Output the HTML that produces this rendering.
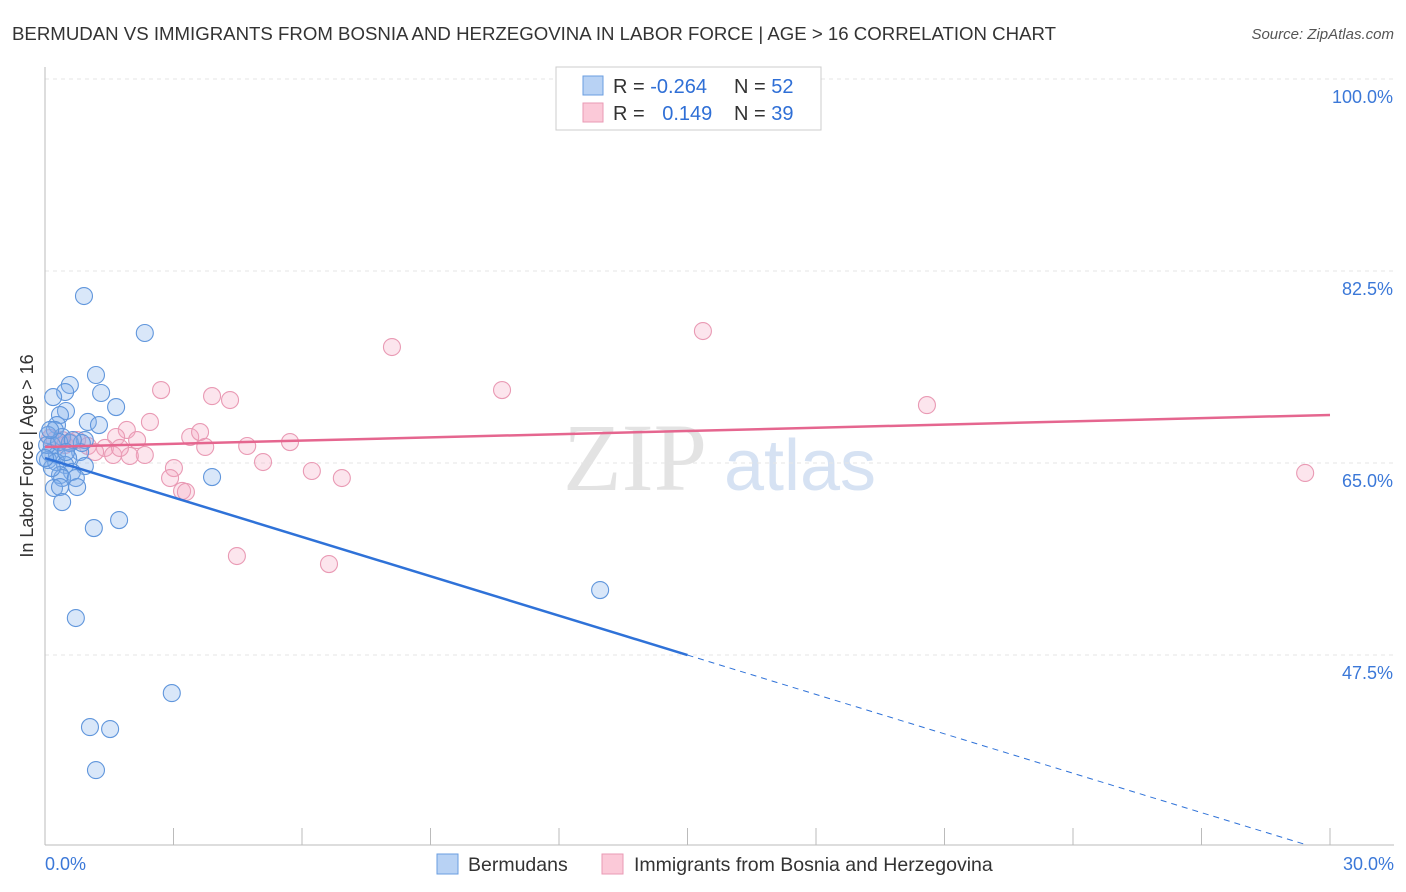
<!DOCTYPE html>
<html><head><meta charset="utf-8"><style>
body{margin:0;background:#fff;font-family:"Liberation Sans",sans-serif}
svg{display:block}
</style></head><body>
<svg id="c" width="1406" height="892" viewBox="0 0 1406 892">
<text x="12" y="40" font-size="18" fill="#333" textLength="1044" lengthAdjust="spacingAndGlyphs">BERMUDAN VS IMMIGRANTS FROM BOSNIA AND HERZEGOVINA IN LABOR FORCE | AGE &gt; 16 CORRELATION CHART</text>
<text x="1394" y="39" font-size="15" fill="#555" font-style="italic" text-anchor="end">Source: ZipAtlas.com</text>
<g>
<text x="635" y="490" font-size="96" fill="#d8d8d8" font-family="Liberation Serif,serif" text-anchor="middle" opacity="0.7">ZIP</text>
<text x="800" y="490" font-size="72" fill="#c5d6ee" text-anchor="middle" opacity="0.7">atlas</text>
</g>
<g id="grid"></g><g id="axes"></g><g id="pts"></g><g id="trend"></g>
<g>
<rect x="556" y="67" width="265" height="63" fill="#fff" stroke="#ccc"/>
<rect x="583" y="76" width="20" height="19" fill="#b8d2f4" stroke="#6a9ee0"/>
<rect x="583" y="103" width="20" height="19" fill="#fbc9d8" stroke="#e99ab4"/>
<text x="613" y="93" font-size="20" fill="#333">R = <tspan fill="#2f6fd6">-0.264</tspan></text>
<text x="734" y="93" font-size="20" fill="#333">N = <tspan fill="#2f6fd6">52</tspan></text>
<text x="613" y="120" font-size="20" fill="#333">R = <tspan fill="#2f6fd6" dx="12">0.149</tspan></text>
<text x="734" y="120" font-size="20" fill="#333">N = <tspan fill="#2f6fd6">39</tspan></text>
</g>
<text transform="translate(33,456) rotate(-90)" font-size="18" fill="#333" text-anchor="middle">In Labor Force | Age &gt; 16</text>
<text x="45" y="870" font-size="18" fill="#3b78d8">0.0%</text>
<text x="1394" y="870" font-size="18" fill="#3b78d8" text-anchor="end">30.0%</text>
<g>
<rect x="437" y="854" width="21" height="20" fill="#b8d2f4" stroke="#6a9ee0"/>
<text x="468" y="871" font-size="19.5" fill="#333">Bermudans</text>
<rect x="602" y="854" width="21" height="20" fill="#fbc9d8" stroke="#e99ab4"/>
<text x="634" y="871" font-size="19.5" fill="#333">Immigrants from Bosnia and Herzegovina</text>
</g>
</svg>
<script>
const yTicks=[100,82.5,65,47.5];
const yTickLabels=["100.0%","82.5%","65.0%","47.5%"];
const blueX=[0.91,2.33,1.19,0.58,1.31,0.47,0.19,1.66,0.49,0.35,1.00,1.26,0.28,0.23,0.07,0.40,0.93,0.16,0.82,0.12,0.28,0.54,0.07,0.26,0.47,0.93,0.63,0.35,0.40,0.72,3.90,0.21,0.35,0.75,0.40,1.14,1.73,12.96,0.72,2.96,1.05,1.52,1.19,0.05,0.16,0.58,0.33,0.86,0.65,0.0,0.49,0.12];
const blueY=[80.22,76.85,73.02,72.11,71.38,71.47,71.01,70.10,69.74,69.37,68.74,68.46,68.46,68.01,67.55,67.37,67.09,66.64,66.00,65.91,65.73,65.45,65.27,65.09,64.82,64.72,64.18,63.90,63.63,63.63,63.72,62.72,62.81,62.81,61.44,59.07,59.80,53.42,50.87,44.03,40.93,40.75,37.01,66.64,64.54,66.82,66.91,66.82,67.09,65.45,66.00,68.01];
const pinkX=[15.36,8.10,2.71,10.67,3.90,4.32,20.59,2.45,1.91,3.39,3.62,1.66,2.15,5.72,4.72,1.40,3.74,1.00,0.75,0.40,2.33,1.98,1.59,5.09,6.23,3.01,6.93,2.92,3.20,3.29,4.48,6.63,29.42,0.23,0.58,0.12,1.17,1.75,0.47];
const pinkY=[77.03,75.57,71.65,71.65,71.10,70.74,70.28,68.74,68.01,67.37,67.82,67.37,67.09,66.91,66.55,66.37,66.46,66.55,67.09,67.09,65.73,65.64,65.73,65.09,64.27,64.54,63.63,63.63,62.45,62.36,56.52,55.79,64.09,67.09,66.91,67.28,66.00,66.37,66.64];
const blueTrend=[65.45,-1.197];
const pinkTrend=[66.46,0.0973];
const NS="http://www.w3.org/2000/svg";
const X0=45,X1=1330,Y100=79,PXPER=192/17.5;
function sx(v){return X0+v/30*(X1-X0);}
function sy(v){return Y100+(100-v)*PXPER;}
function mk(tag,attrs,parent){const e=document.createElementNS(NS,tag);for(const k in attrs)e.setAttribute(k,attrs[k]);parent.appendChild(e);return e;}
const grid=document.getElementById('grid');
yTicks.forEach((t,i)=>{
 const l=mk('line',{x1:45,x2:1394,y1:sy(t),y2:sy(t),stroke:'#e6e6e6','stroke-dasharray':'4,4'},grid);
 
 
 const tx=mk('text',{x:1393,y:sy(t)+24,'font-size':18,fill:'#3b78d8','text-anchor':'end'},grid);
 tx.textContent=yTickLabels[i];
 
 
});
const axes=document.getElementById('axes');
const ya=mk('line',{x1:45,x2:45,y1:67,y2:845,stroke:'#bbb'},axes);


const xa=mk('line',{x1:45,x2:1394,y1:845,y2:845,stroke:'#bbb'},axes);


for(let i=0;i<=10;i++){
 const t=mk('line',{x1:sx(i*3),x2:sx(i*3),y1:828,y2:845,stroke:'#bbb'},axes);
 
 
}
const pts=document.getElementById('pts');
function drawPts(xs,ys,fill,stroke,name){
 xs.forEach((x,i)=>{
  const c=mk('circle',{cx:sx(x),cy:sy(ys[i]),r:8.5,fill:fill,stroke:stroke,'stroke-width':1.1},pts);
  
  
 });
}
drawPts(pinkX,pinkY,'rgba(244,170,196,0.3)','#e99ab4','bosnia-point');
drawPts(blueX,blueY,'rgba(130,175,235,0.3)','#6096dc','bermudan-point');
const tr=document.getElementById('trend');
const bEnd=15, bLast=29.4;
const b1=mk('line',{x1:sx(0),y1:sy(blueTrend[0]),x2:sx(bEnd),y2:sy(blueTrend[0]+blueTrend[1]*bEnd),stroke:'#2f72d8','stroke-width':2.5},tr);


const b2=mk('line',{x1:sx(bEnd),y1:sy(blueTrend[0]+blueTrend[1]*bEnd),x2:sx(bLast),y2:sy(blueTrend[0]+blueTrend[1]*bLast),stroke:'#2f72d8','stroke-width':1,'stroke-dasharray':'6,5'},tr);


const p1=mk('line',{x1:sx(0),y1:sy(pinkTrend[0]),x2:sx(30),y2:sy(pinkTrend[0]+pinkTrend[1]*30),stroke:'#e5668f','stroke-width':2.5},tr);


</script>
</body></html>
